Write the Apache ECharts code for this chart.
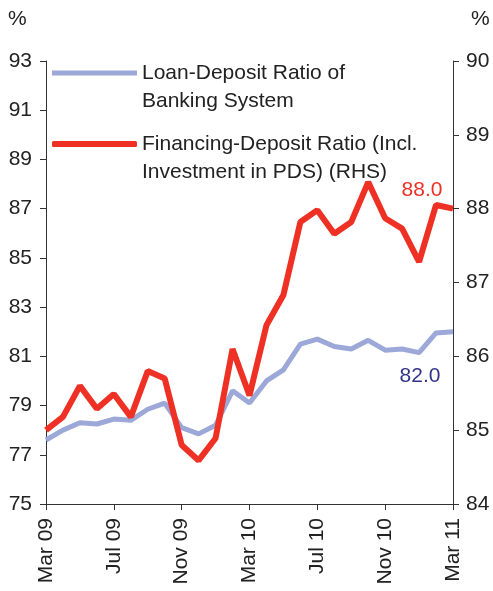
<!DOCTYPE html>
<html>
<head>
<meta charset="utf-8">
<script src="https://cdn.jsdelivr.net/npm/echarts@6/dist/echarts.min.js"></script>
<style>
html, body { margin: 0; padding: 0; background: #fff; }
#main { width: 493px; height: 591px; }
</style>
</head>
<body>
<div id="main"></div>
<script>
// months Mar 09 .. Mar 11
var months = ['Mar 09','Apr 09','May 09','Jun 09','Jul 09','Aug 09','Sep 09','Oct 09','Nov 09','Dec 09','Jan 10','Feb 10',
              'Mar 10','Apr 10','May 10','Jun 10','Jul 10','Aug 10','Sep 10','Oct 10','Nov 10','Dec 10','Jan 11','Feb 11','Mar 11'];
// 贷存比 (左轴)
var loanDeposit = [77.6, 78.0, 78.3, 78.25, 78.45, 78.4, 78.85, 79.1, 78.1, 77.85, 78.2, 79.6,
                   79.1, 80.0, 80.45, 81.5, 81.7, 81.4, 81.3, 81.65, 81.25, 81.3, 81.15, 81.95, 82.0];
// 融资存款比 (右轴)
var financingDeposit = [85.0, 85.18, 85.6, 85.29, 85.49, 85.18, 85.8, 85.7, 84.8, 84.59, 84.89, 86.1,
                        85.47, 86.42, 86.83, 87.82, 87.98, 87.66, 87.82, 88.36, 87.87, 87.73, 87.28, 88.05, 88.0];

var nameLoan = 'Loan-Deposit Ratio of\nBanking System';
var nameFin = 'Financing-Deposit Ratio (Incl.\nInvestment in PDS) (RHS)';

var myChart = echarts.init(document.getElementById('main'));
var font = 'Liberation Sans, Arial, sans-serif';
var fs = 21;

// 最后一个点带标签
function withEndLabel(arr, color, offset, pos) {
    return arr.map(function (v, i) {
        if (i !== arr.length - 1) return v;
        return {
            value: v,
            label: {
                show: true, position: pos, offset: offset,
                formatter: v.toFixed(1), color: color,
                fontSize: fs, fontFamily: font
            }
        };
    });
}

var legendText = { fontSize: fs, fontFamily: font, color: '#222', lineHeight: 28 };

var option = {
    animation: false,
    backgroundColor: '#fff',
    grid: { left: 46, right: 40, top: 61, bottom: 87 },
    graphic: [
        { type: 'text', left: 8, top: 9, style: { text: '%', fontSize: fs, fontFamily: font, fill: '#222' } },
        { type: 'text', left: 471, top: 9, style: { text: '%', fontSize: fs, fontFamily: font, fill: '#222' } }
    ],
    legend: [
        {
            data: [nameLoan], left: 47, top: 26, itemWidth: 85, itemHeight: 5, icon: 'rect', itemGap: 5,
            formatter: function (n) { return '\n' + n; }, textStyle: legendText
        },
        {
            data: [nameFin], left: 47, top: 97, itemWidth: 85, itemHeight: 6, icon: 'roundRect',
            formatter: function (n) { return '\n' + n; }, textStyle: legendText
        }
    ],
    xAxis: {
        type: 'category',
        data: months,
        boundaryGap: false,
        axisLine: { lineStyle: { color: '#333' } },
        axisTick: { alignWithLabel: true, interval: 3, length: 6, lineStyle: { color: '#333' } },
        axisLabel: { interval: 3, rotate: 90, fontSize: fs, fontFamily: font, color: '#222', margin: 14 },
        splitLine: { show: false }
    },
    yAxis: [
        {
            type: 'value', min: 75, max: 93, interval: 2,
            axisLine: { show: true, lineStyle: { color: '#333' } },
            axisTick: { show: true, length: 6, lineStyle: { color: '#333' } },
            axisLabel: { fontSize: fs, fontFamily: font, color: '#222', margin: 14 },
            splitLine: { show: false }
        },
        {
            type: 'value', min: 84, max: 90, interval: 1, position: 'right',
            axisLine: { show: true, lineStyle: { color: '#333' } },
            axisTick: { show: true, length: 6, lineStyle: { color: '#333' } },
            axisLabel: { fontSize: fs, fontFamily: font, color: '#222', margin: 13 },
            splitLine: { show: false }
        }
    ],
    series: [
        {
            name: nameLoan, type: 'line', yAxisIndex: 0,
            data: withEndLabel(loanDeposit, '#333388', [-33, 29], 'bottom'),
            symbol: 'circle', symbolSize: 0, showSymbol: true, color: '#9ba8d8',
            lineStyle: { width: 5, color: '#9ba8d8' }
        },
        {
            name: nameFin, type: 'line', yAxisIndex: 1,
            data: withEndLabel(financingDeposit, '#ee3124', [-31, -3], 'top'),
            symbol: 'circle', symbolSize: 0, showSymbol: true, color: '#ee3124',
            lineStyle: { width: 6, color: '#ee3124' }
        }
    ]
};

myChart.setOption(option);
</script>
</body>
</html>
